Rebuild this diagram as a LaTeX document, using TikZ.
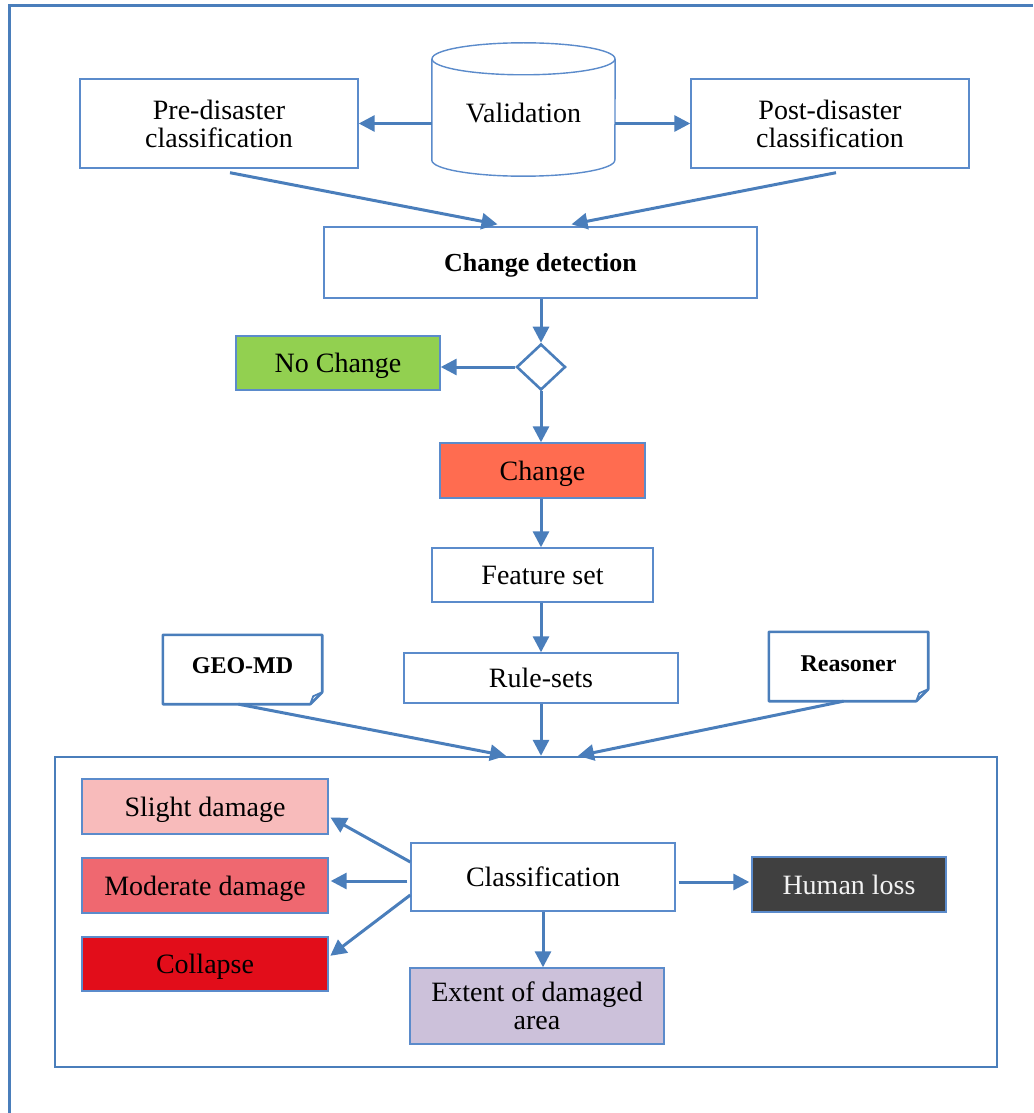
\documentclass[tikz,border=0pt]{standalone}
\usepackage{fontspec}
\setmainfont{Liberation Serif}
\usetikzlibrary{arrows.meta,shapes.geometric,calc}

\definecolor{flowblue}{HTML}{4A7EBB}
\definecolor{edgeblue}{HTML}{5B8BCB}
\definecolor{okgreen}{HTML}{92D050}
\definecolor{chgorange}{HTML}{FF6C50}
\definecolor{slightpink}{HTML}{F8BBBB}
\definecolor{modred}{HTML}{EF6870}
\definecolor{collred}{HTML}{E20D1A}
\definecolor{lossgrey}{HTML}{404040}
\definecolor{areapurple}{HTML}{CCC1DA}

\tikzset{
  box/.style={draw=edgeblue, line width=1.4pt, rectangle, align=center,
    inner sep=0pt, text depth=0pt, font=\fontsize{28}{28}\selectfont},
  notebox/.style={rectangle, align=center, inner sep=0pt,
    minimum width=159pt, minimum height=69pt,
    font=\fontsize{24}{24}\selectfont\bfseries},
  notedraw/.style={draw=flowblue, line width=2.6pt, line join=round},
  arr/.style={draw=flowblue, line width=3pt,
    -{Triangle[length=16pt,width=16pt]}},
}

\begin{document}
\begin{tikzpicture}[x=1pt,y=-1pt]
\useasboundingbox (0,0) rectangle (1033,1113);

% outer frame
\draw[flowblue, line width=3pt] (9,1113) -- (9,6) -- (1033,6);

% validation store
\node[rectangle, inner sep=0pt, minimum width=183pt, minimum height=133pt] (val)
  at (523.5,109.5) {};
\draw[edgeblue, line width=1.4pt, fill=white]
  ([yshift=-16pt]val.north west) -- ([yshift=16pt]val.south west)
  arc[start angle=180, end angle=360, x radius=91.5pt, y radius=16pt]
  -- ([yshift=-16pt]val.north east);
\draw[edgeblue, line width=1.4pt, fill=white]
  ([yshift=-16pt]val.north) ellipse[x radius=91.5pt, y radius=16pt];
\node[font=\fontsize{28}{28}\selectfont] at ([yshift=-3pt]val.center) {Validation};

% classifications and change detection
\node[box, minimum width=278pt, minimum height=89pt] (pre) at (219,123.5)
  {Pre-disaster\\classification};
\node[box, minimum width=278pt, minimum height=89pt] (post) at (830,123.5)
  {Post-disaster\\classification};
\node[box, minimum width=433pt, minimum height=71pt,
      font=\fontsize{26}{26}\selectfont\bfseries] (cd) at (540.5,262.5)
  {Change detection};

\node[diamond, draw=flowblue, line width=2.6pt, inner sep=0pt,
      minimum width=49pt, minimum height=46pt] (dec) at (541,367) {};
\node[box, fill=okgreen, minimum width=204pt, minimum height=54pt] (nochg)
  at (338,363) {No Change};
\node[box, fill=chgorange, minimum width=205pt, minimum height=55pt] (chg)
  at (542.5,470.5) {Change};
\node[box, minimum width=221pt, minimum height=54pt] (feat)
  at (542.5,575) {Feature set};
\node[box, minimum width=274pt, minimum height=50pt] (rules)
  at (541,678) {Rule-sets};

% knowledge sources
\node[notebox] (geo) at (242.5,669.5) {\raisebox{7pt}{GEO-MD}};
\node[notebox] (reas) at (848.5,666.5) {\raisebox{6pt}{Reasoner}};
\foreach \n in {geo,reas}{
  \draw[notedraw] (\n.north west) -- (\n.north east)
    -- ([yshift=12pt]\n.south east) -- ([xshift=-12pt]\n.south east)
    -- (\n.south west) -- cycle;
  \draw[notedraw, line width=1.8pt] ([xshift=-12pt]\n.south east)
    -- ([xshift=-9pt,yshift=8pt]\n.south east) -- ([yshift=12pt]\n.south east);
}

% damage assessment panel
\node[draw=flowblue, line width=2.4pt, rectangle, minimum width=942pt,
      minimum height=310pt] (frame) at (526,912) {};
\node[box, fill=slightpink, minimum width=246pt, minimum height=55pt] (slight)
  at (205,806.5) {Slight damage};
\node[box, fill=modred, minimum width=246pt, minimum height=55pt] (mod)
  at (205,885.5) {Moderate damage};
\node[box, fill=collred, minimum width=246pt, minimum height=54pt] (coll)
  at (205,964) {Collapse};
\node[box, minimum width=264pt, minimum height=68pt] (class)
  at (543,877) {Classification};
\node[box, fill=lossgrey, text=white!95!black, minimum width=194pt,
      minimum height=55pt] (human) at (849,884.5) {Human loss};
\node[box, fill=areapurple, minimum width=254pt, minimum height=76pt] (extent)
  at (537,1006) {Extent of damaged\\area};

% connectors
\draw[arr] (val.west |- pre.east) -- (pre.east);
\draw[arr] (val.east |- post.west) -- (post.west);
\draw[arr] ([xshift=11pt,yshift=-4pt]pre.south) -- ([xshift=-43pt,yshift=2pt]cd.north);
\draw[arr] ([xshift=6pt,yshift=-4pt]post.south) -- ([xshift=31pt,yshift=2pt]cd.north);
\draw[arr] (cd.south -| dec.north) -- (dec.north);
\draw[arr] (dec.west) -- (dec.west -| nochg.east);
\draw[arr] (dec.south) -- (dec.south |- chg.north);
\draw[arr] (chg.south -| dec.south) -- (dec.south |- feat.north);
\draw[arr] (feat.south -| dec.south) -- (dec.south |- rules.north);
\draw[arr] (rules.south) -- (rules.south |- frame.north);
\draw[arr] ([xshift=-4pt]geo.south) -- ($(rules.south |- frame.north)+(-35,0)$);
\draw[arr] ([xshift=-5pt]reas.south) -- ($(rules.south |- frame.north)+(37,0)$);

\draw[arr, shorten >=2pt] ([yshift=15pt]class.west) -- ([yshift=-10pt]slight.east);
\draw[arr, shorten >=2pt] ([xshift=-3pt,yshift=-4pt]class.west) -- ([yshift=-4pt]class.west -| mod.east);
\draw[arr, shorten >=2pt] ([yshift=-18pt]class.west) -- ([yshift=7pt]coll.east);
\draw[arr, shorten <=3pt, shorten >=2pt] ([yshift=-5pt]class.east) -- ([yshift=-5pt]class.east -| human.west);
\draw[arr] (class.south) -- (class.south |- extent.north);
\end{tikzpicture}
\end{document}
